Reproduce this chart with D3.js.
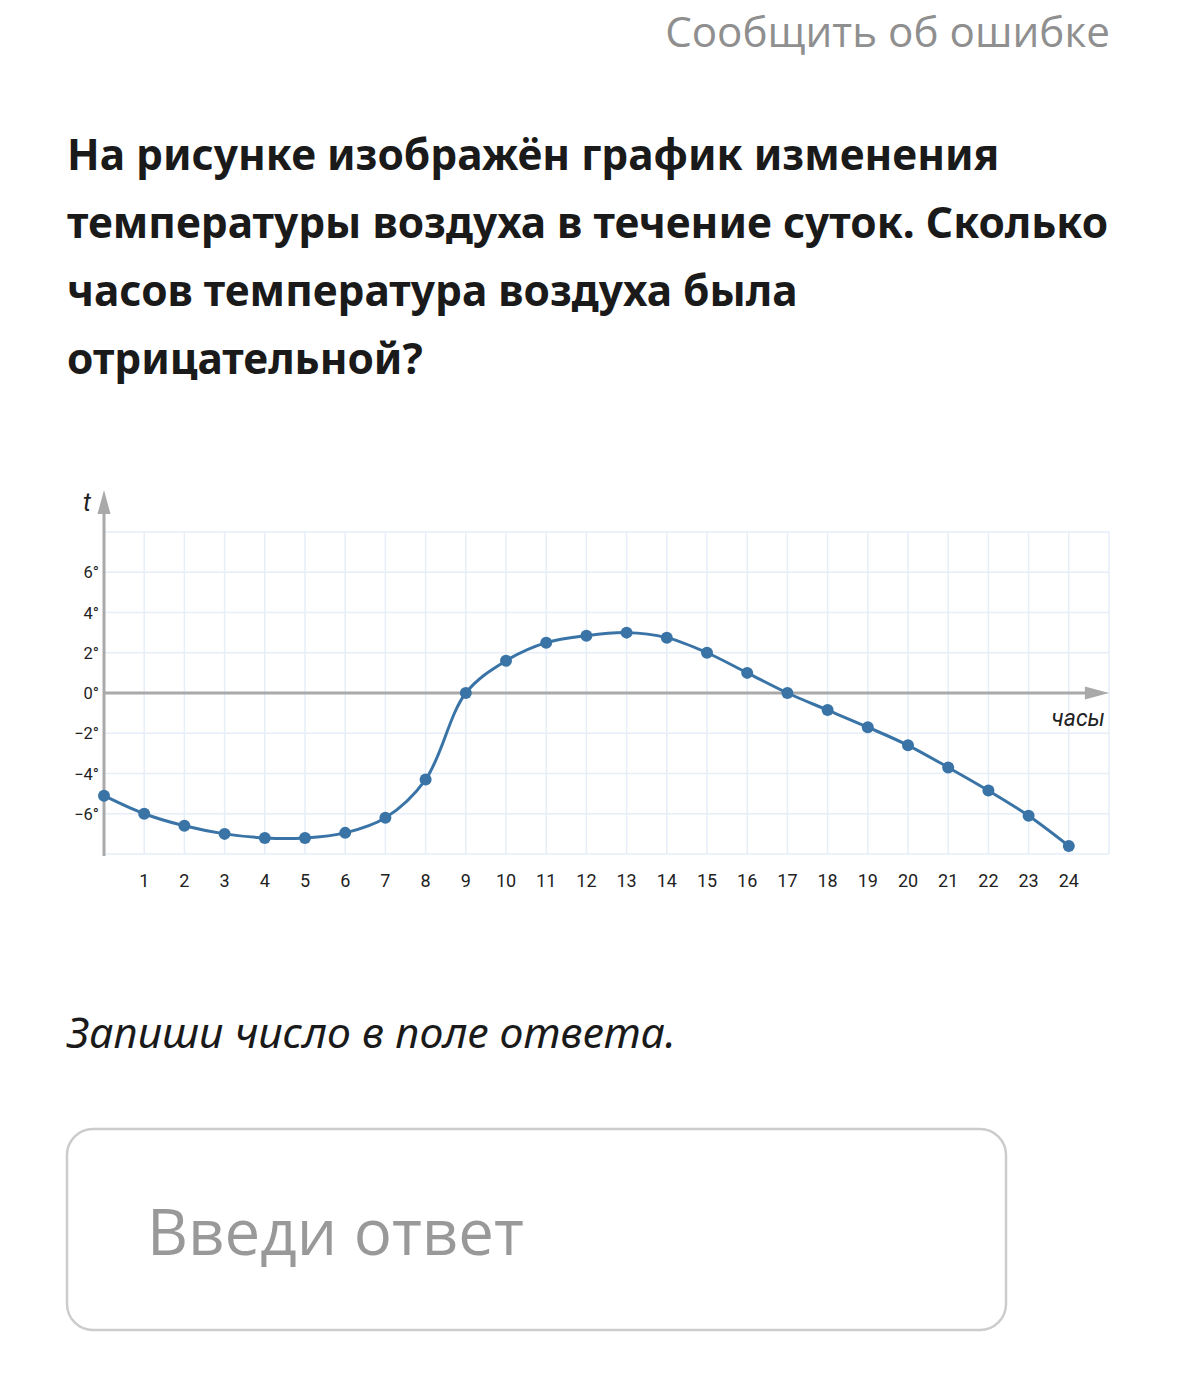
<!DOCTYPE html>
<html><head><meta charset="utf-8">
<script src="https://cdn.jsdelivr.net/npm/d3@7"></script>
<style>html,body{margin:0;padding:0;background:#fff;}svg{display:block;}</style>
</head><body>
<script>
const hours = d3.range(0, 25);
const temps = [-5.1, -6.0, -6.6, -7.0, -7.2, -7.2, -6.95, -6.2, -4.3, 0, 1.6, 2.5, 2.85, 3.0, 2.75, 2.0, 1.0, 0, -0.85, -1.7, -2.6, -3.7, -4.85, -6.1, -7.6];
const xTickLabels = d3.range(1, 25);
const yTickValues = [-6, -4, -2, 0, 2, 4, 6];
const titleLines = ["На рисунке изображён график изменения", "температуры воздуха в течение суток. Сколько", "часов температура воздуха была", "отрицательной?"];

const W = 1179, H = 1386;
const svg = d3.select("body").append("svg").attr("width", W).attr("height", H);

// scale a text's font size so its width matches a target width
function fit(sel, target) {
  const w = sel.node().getComputedTextLength();
  const fs = +sel.attr("font-size");
  sel.attr("font-size", (fs * target / w).toFixed(2));
}

// header link
const hdr = svg.append("text").attr("x", 1110).attr("y", 47).attr("text-anchor", "end")
  .attr("font-family", "Open Sans").attr("font-size", 40).attr("fill", "#8f8f8f")
  .text("Сообщить об ошибке");
fit(hdr, 445);

// title
const title = svg.append("g").attr("font-family", "Noto Sans").attr("font-weight", "bold").attr("fill", "#1a1a1a");
const tl = titleLines.map((l, i) => title.append("text").attr("x", 67).attr("y", 170 + i * 68).attr("font-size", 40).text(l));
const w2 = tl[1].node().getComputedTextLength();
const tfs = 40 * 1041 / w2;
tl.forEach(t => t.attr("font-size", tfs.toFixed(2)));

// chart
const x = d3.scaleLinear().domain([0, 25]).range([104, 1109]);
const y = d3.scaleLinear().domain([-8, 8]).range([854, 532]);
const g = svg.append("g");

// grid
g.append("g").selectAll("line").data(d3.range(1, 26)).join("line")
  .attr("x1", d => x(d)).attr("x2", d => x(d)).attr("y1", y(8)).attr("y2", y(-8))
  .attr("stroke", "#e6eef8").attr("stroke-width", 1.5);
g.append("g").selectAll("line").data(d3.range(-8, 9, 2)).join("line")
  .attr("x1", x(0)).attr("x2", x(25)).attr("y1", d => y(d)).attr("y2", d => y(d))
  .attr("stroke", "#e6eef8").attr("stroke-width", 1.5);

// axes
const axisColor = "#a9a9a9";
g.append("line").attr("x1", x(0)).attr("x2", x(24.45)).attr("y1", y(0)).attr("y2", y(0))
  .attr("stroke", axisColor).attr("stroke-width", 3);
g.append("path").attr("d", `M${x(25)},${y(0)} L${x(24.4)},${y(0)-6.5} L${x(24.4)},${y(0)+6.5} Z`).attr("fill", axisColor);
g.append("line").attr("x1", x(0)).attr("x2", x(0)).attr("y1", y(-8.1)).attr("y2", 512)
  .attr("stroke", axisColor).attr("stroke-width", 3);
g.append("path").attr("d", `M${x(0)},490 L${x(0)-6.5},514 L${x(0)+6.5},514 Z`).attr("fill", axisColor);

g.append("text").attr("x", 83).attr("y", 511).attr("font-family", "Roboto").attr("font-style", "italic")
  .attr("font-size", 25).attr("fill", "#222").text("t");
g.append("text").attr("x", 1105).attr("y", 726).attr("text-anchor", "end").attr("font-family", "Roboto")
  .attr("font-style", "italic").attr("font-size", 23).attr("fill", "#222").text("часы");

// tick labels
g.append("g").selectAll("text").data(xTickLabels).join("text")
  .attr("x", d => x(d)).attr("y", 887).attr("text-anchor", "middle")
  .attr("font-family", "Roboto").attr("font-size", 18).attr("fill", "#222").text(d => d);
g.append("g").selectAll("text").data(yTickValues).join("text")
  .attr("x", 99).attr("y", d => y(d) + 6).attr("text-anchor", "end")
  .attr("font-family", "Roboto").attr("font-size", 16.5).attr("fill", "#222")
  .text(d => (d < 0 ? "−" + Math.abs(d) : d) + "°");

// curve
const pts = hours.map((h, i) => [h, temps[i]]);
const lineColor = "#3a74a6";
g.append("path").datum(pts)
  .attr("d", d3.line().x(d => x(d[0])).y(d => y(d[1])).curve(d3.curveCatmullRom.alpha(0.5)))
  .attr("fill", "none").attr("stroke", lineColor).attr("stroke-width", 3);
g.append("g").selectAll("circle").data(pts).join("circle")
  .attr("cx", d => x(d[0])).attr("cy", d => y(d[1])).attr("r", 6).attr("fill", lineColor);

// instruction
const ins = svg.append("text").attr("x", 67).attr("y", 1048).attr("font-family", "Noto Sans").attr("font-style", "italic")
  .attr("font-size", 40).attr("fill", "#1a1a1a").text("Запиши число в поле ответа.");
fit(ins, 609);

// input
svg.append("rect").attr("x", 67).attr("y", 1129).attr("width", 939).attr("height", 201).attr("rx", 26)
  .attr("fill", "#fff").attr("stroke", "#cccccc").attr("stroke-width", 2.5);
const ph = svg.append("text").attr("x", 147).attr("y", 1255).attr("font-family", "Open Sans")
  .attr("font-size", 60).attr("fill", "#999").text("Введи ответ");
fit(ph, 377);
</script>
</body></html>
